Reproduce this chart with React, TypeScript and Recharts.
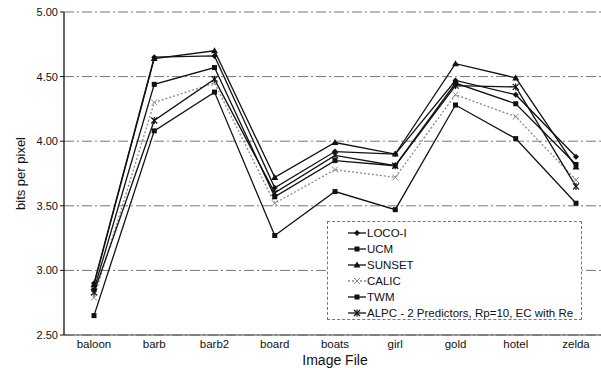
import { LineChart, Line, XAxis, YAxis, CartesianGrid } from "recharts";

const categories = ["baloon", "barb", "barb2", "board", "boats", "girl", "gold", "hotel", "zelda"];

const locoI  = [2.90, 4.65, 4.66, 3.64, 3.92, 3.90, 4.47, 4.36, 3.88];
const ucm    = [2.85, 4.44, 4.57, 3.57, 3.85, 3.81, 4.45, 4.29, 3.82];
const sunset = [2.89, 4.64, 4.70, 3.72, 3.99, 3.90, 4.60, 4.49, 3.80];
const calic  = [2.79, 4.30, 4.45, 3.52, 3.78, 3.72, 4.36, 4.19, 3.70];
const twm    = [2.65, 4.08, 4.38, 3.27, 3.61, 3.47, 4.28, 4.02, 3.52];
const alpc   = [2.83, 4.16, 4.48, 3.60, 3.89, 3.81, 4.43, 4.42, 3.65];

const yTicks = [2.5, 3.0, 3.5, 4.0, 4.5, 5.0];

const FONT = "Arial, 'Liberation Sans', sans-serif";

const series = [
  { key: "loco", name: "LOCO-I", shape: "diamond", color: "#111", dash: undefined },
  { key: "ucm", name: "UCM", shape: "square", color: "#111", dash: undefined },
  { key: "sunset", name: "SUNSET", shape: "triangle", color: "#111", dash: undefined },
  { key: "calic", name: "CALIC", shape: "x", color: "#888", dash: "2 2" },
  { key: "twm", name: "TWM", shape: "square", color: "#111", dash: undefined },
  { key: "alpc", name: "ALPC - 2 Predictors, Rp=10, EC with Re", shape: "star", color: "#111", dash: undefined },
];

const data = categories.map((name, i) => ({
  name,
  loco: locoI[i],
  ucm: ucm[i],
  sunset: sunset[i],
  calic: calic[i],
  twm: twm[i],
  alpc: alpc[i],
}));

function Marker({ cx, cy, shape, color }: any) {
  if (cx == null || cy == null) return null;
  switch (shape) {
    case "diamond":
      return <polygon points={`${cx},${cy - 3} ${cx + 3},${cy} ${cx},${cy + 3} ${cx - 3},${cy}`} fill={color} />;
    case "square":
      return <rect x={cx - 2.5} y={cy - 2.5} width={5} height={5} fill={color} />;
    case "triangle":
      return <polygon points={`${cx},${cy - 3.5} ${cx + 3.5},${cy + 2.5} ${cx - 3.5},${cy + 2.5}`} fill={color} />;
    case "x":
      return (
        <g stroke={color} strokeWidth={1}>
          <line x1={cx - 3} y1={cy - 3} x2={cx + 3} y2={cy + 3} />
          <line x1={cx - 3} y1={cy + 3} x2={cx + 3} y2={cy - 3} />
        </g>
      );
    default:
      return (
        <g stroke={color} strokeWidth={1.2}>
          <line x1={cx - 3} y1={cy - 3} x2={cx + 3} y2={cy + 3} />
          <line x1={cx - 3} y1={cy + 3} x2={cx + 3} y2={cy - 3} />
          <line x1={cx} y1={cy - 3.5} x2={cx} y2={cy + 3.5} />
        </g>
      );
  }
}

function LegendBox() {
  return (
    <div
      style={{
        position: "absolute",
        left: 327,
        top: 221,
        width: 255,
        height: 99,
        boxSizing: "border-box",
        border: "1px dashed #777",
        background: "#fff",
        padding: "3px 0 0 20px",
        fontFamily: FONT,
        fontSize: 11.5,
        color: "#111",
      }}
    >
      {series.map((s) => (
        <div key={s.key} style={{ display: "flex", alignItems: "center", height: 16 }}>
          <svg width={18} height={10} style={{ marginRight: 1 }}>
            <line x1={0} y1={5} x2={18} y2={5} stroke={s.color} strokeWidth={1.3} strokeDasharray={s.dash} />
            <Marker cx={9} cy={5} shape={s.shape} color={s.color} />
          </svg>
          <span>{s.name}</span>
        </div>
      ))}
    </div>
  );
}

export default function App() {
  return (
    <div style={{ position: "relative", width: 601, height: 368, background: "#fff", overflow: "hidden" }}>
      <style>{"body{margin:0}"}</style>
      <LineChart
        width={601}
        height={368}
        data={data}
        margin={{ top: 12, right: -5, bottom: 0, left: 0 }}
        style={{ fontFamily: FONT }}
      >
        <CartesianGrid vertical={false} stroke="#777" strokeDasharray="10 3 2 3" />
        <XAxis
          dataKey="name"
          height={33}
          padding={{ left: 30, right: 30 }}
          tickSize={0}
          tickMargin={5}
          axisLine={{ stroke: "#444" }}
          tick={{ fontSize: 11.5, fill: "#111" }}
          label={{ value: "Image File", position: "insideBottom", offset: 3, fontSize: 14, fill: "#111" }}
        />
        <YAxis
          width={64}
          domain={[2.5, 5]}
          ticks={yTicks}
          tickFormatter={(v: number) => v.toFixed(2)}
          tickSize={4}
          tickMargin={2}
          axisLine={{ stroke: "#111", strokeWidth: 1.3 }}
          tickLine={{ stroke: "#111" }}
          tick={{ fontSize: 11, fill: "#111" }}
          label={{ value: "bits per pixel", angle: -90, position: "insideLeft", offset: 20, fontSize: 13, fill: "#111", style: { textAnchor: "middle" } }}
        />
        {series.map((s) => (
          <Line
            key={s.key}
            type="linear"
            dataKey={s.key}
            name={s.name}
            stroke={s.color}
            strokeWidth={1.3}
            strokeDasharray={s.dash}
            isAnimationActive={false}
            dot={(p: any) => <Marker key={`${s.key}-${p.index}`} cx={p.cx} cy={p.cy} shape={s.shape} color={s.color} />}
            activeDot={false}
          />
        ))}
      </LineChart>
      <LegendBox />
    </div>
  );
}
